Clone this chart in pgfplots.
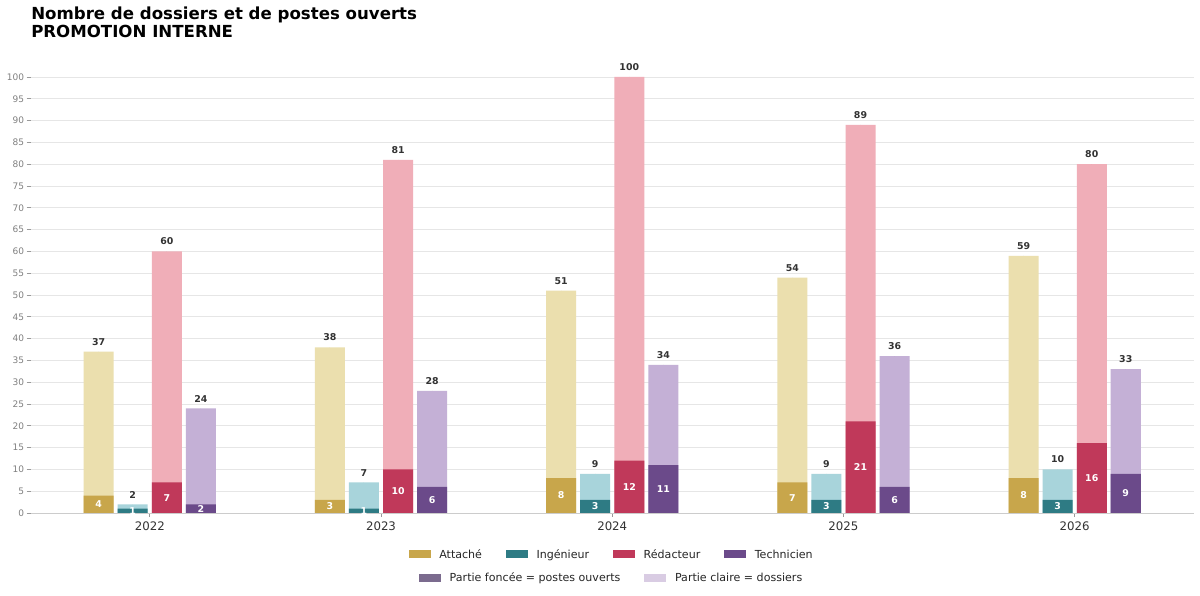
\documentclass[border=0pt]{standalone}
\usepackage{pgfplots}
\pgfplotsset{compat=1.18}
\usepackage{pgfplotstable}
\usepackage{fontspec}
\setmainfont{DejaVu Sans}
\definecolor{attD}{HTML}{C8A64B}
\definecolor{attL}{HTML}{EBDFAE}
\definecolor{ingD}{HTML}{2E7B84}
\definecolor{ingL}{HTML}{A8D4DB}
\definecolor{redD}{HTML}{C0395A}
\definecolor{redL}{HTML}{F0AEB8}
\definecolor{tecD}{HTML}{6B4A8A}
\definecolor{tecL}{HTML}{C4B0D6}
\definecolor{legD}{HTML}{7B6B8E}
\definecolor{legL}{HTML}{D9CCE3}
\definecolor{gridc}{HTML}{E6E6E6}
\definecolor{spine}{HTML}{CCCCCC}
\definecolor{tickc}{HTML}{999999}
\definecolor{tlab}{HTML}{808080}
\definecolor{labc}{HTML}{333333}

\pgfplotstableread{
year dos pos
2022 37 4
2023 38 3
2024 51 8
2025 54 7
2026 59 8
}\att
\pgfplotstableread{
year dos pos
2022 2 1
2023 7 1
2024 9 3
2025 9 3
2026 10 3
}\ing
\pgfplotstableread{
year dos pos
2022 60 7
2023 81 10
2024 100 12
2025 89 21
2026 80 16
}\red
\pgfplotstableread{
year dos pos
2022 24 2
2023 28 6
2024 34 11
2025 36 6
2026 33 9
}\tec

\newcommand{\cat}[4]{%
  \addplot[ybar, bar width=0.13, bar shift=#2, fill=#3, draw=none, forget plot]
    table[x=year, y=dos]{#1};
  \addplot[ybar, bar width=0.13, bar shift=#2, fill=#4, draw=none, forget plot]
    table[x=year, y=pos]{#1};
  \addplot[only marks, mark=*, mark size=0pt, mark options={draw=none, fill=none}, forget plot,
    point meta=explicit,
    nodes near coords,
    nodes near coords style={anchor=south, inner sep=0pt, yshift=0.06in, text=labc,
      font=\bfseries\fontsize{6.8}{8}\selectfont}]
    table[x expr=\thisrow{year}+(#2), y=dos, meta=dos]{#1};
  \addplot[only marks, mark=*, mark size=0pt, mark options={draw=none, fill=none}, forget plot,
    point meta=explicit,
    nodes near coords,
    nodes near coords style={anchor=center, inner sep=0pt, text=white,
      font=\bfseries\fontsize{6.8}{8}\selectfont}]
    table[x expr=\thisrow{year}+(#2), y expr=\thisrow{pos}/2, meta=pos]{#1};
}

\pgfplotsset{
  geom/.style={at={(0.305in,0.83in)}, anchor=south west, scale only axis,
    width=11.63in, height=4.578in},
  myleg/.style={
    legend image code/.code={\fill[##1, draw=none] (0in,-0.035in) rectangle (0.22in,0.045in);},
    legend style={draw=none, fill=none, anchor=center, inner sep=0pt,
      font=\fontsize{8}{10}\selectfont, text=black!85,
      /tikz/every odd column/.append style={column sep=0.06in},
      /tikz/every even column/.append style={column sep=0.21in}},
    legend cell align=left},
}

\begin{document}
\begin{tikzpicture}
\useasboundingbox (0,0) rectangle (12in,5.96in);
\fill[white] (0,0) rectangle (12in,5.96in);
\node[anchor=north west, align=left, inner sep=0pt, font=\bfseries\fontsize{12}{13}\selectfont]
  at (0.31in,5.895in) {Nombre de dossiers et de postes ouverts\\PROMOTION INTERNE};

\begin{axis}[geom,
  xmin=2021.484, xmax=2026.514, ymin=0, ymax=105,
  xtick={2022,2023,2024,2025,2026},
  xticklabels={2022,2023,2024,2025,2026},
  ytick={0,5,...,100},
  ymajorgrids, grid style={draw=gridc, line width=0.6pt},
  axis lines*=left,
  x axis line style={draw=spine, line width=0.7pt},
  y axis line style={draw=none},
  tick align=outside, major tick length=0.04in,
  tick style={draw=tickc, line width=0.5pt},
  /pgf/number format/assume math mode=true,
  yticklabel style={font=\fontsize{6.5}{8}\selectfont, text=tlab, inner sep=1.5pt},
  xticklabel style={font=\fontsize{8.5}{10}\selectfont, text=labc},
  clip=false,
  myleg, legend columns=4,
  legend style={at={(0.5,-0.0917)}},
]
\cat{\att}{-0.221}{attL}{attD}
\cat{\ing}{-0.074}{ingL}{ingD}
\cat{\red}{0.074}{redL}{redD}
\cat{\tec}{0.221}{tecL}{tecD}
\addlegendimage{fill=attD}\addlegendentry{Attaché}
\addlegendimage{fill=ingD}\addlegendentry{Ingénieur}
\addlegendimage{fill=redD}\addlegendentry{Rédacteur}
\addlegendimage{fill=tecD}\addlegendentry{Technicien}
\end{axis}

\begin{axis}[geom, hide axis, xmin=0, xmax=1, ymin=0, ymax=1,
  myleg, legend columns=2,
  legend style={at={(0.5,-0.142)}}]
\addlegendimage{fill=legD}\addlegendentry{Partie foncée = postes ouverts}
\addlegendimage{fill=legL}\addlegendentry{Partie claire = dossiers}
\end{axis}
\end{tikzpicture}
\end{document}
